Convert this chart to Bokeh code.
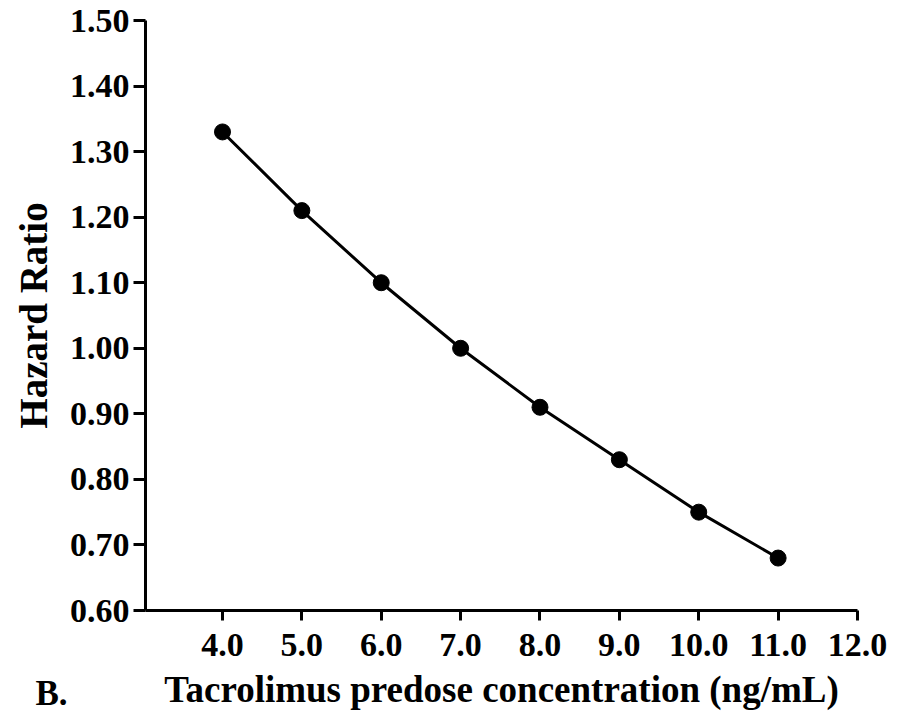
from bokeh.plotting import figure
from bokeh.models import Range1d, FixedTicker, PrintfTickFormatter, Title
from bokeh.embed import file_html
from bokeh.resources import INLINE

conc = [4.0, 5.0, 6.0, 7.0, 8.0, 9.0, 10.0, 11.0]
hazard = [1.33, 1.21, 1.10, 1.00, 0.91, 0.83, 0.75, 0.68]
x_ticks = [4.0, 5.0, 6.0, 7.0, 8.0, 9.0, 10.0, 11.0, 12.0]
y_ticks = [0.60, 0.70, 0.80, 0.90, 1.00, 1.10, 1.20, 1.30, 1.40, 1.50]

FONT = "Liberation Serif"

p = figure(width=888, height=712, x_range=Range1d(3.03, 12.0), y_range=Range1d(0.60, 1.50),
           output_backend="svg", toolbar_location=None,
           min_border_left=145, min_border_right=31, min_border_top=20, min_border_bottom=102)
p.outline_line_color = None
p.grid.visible = False
p.background_fill_color = "white"

for ax in (p.xaxis[0], p.yaxis[0]):
    ax.axis_line_width = 3
    ax.axis_line_color = "black"
    ax.major_tick_line_width = 3
    ax.major_tick_line_color = "black"
    ax.major_tick_in = 0
    ax.minor_tick_line_color = None
    ax.major_label_text_font = FONT
    ax.major_label_text_font_style = "bold"
    ax.major_label_text_font_size = "34px"
    ax.major_label_text_color = "black"
    ax.axis_label_text_font = FONT
    ax.axis_label_text_font_style = "bold"
    ax.axis_label_text_color = "black"

p.xaxis.ticker = FixedTicker(ticks=x_ticks)
p.yaxis.ticker = FixedTicker(ticks=y_ticks)
p.xaxis.formatter = PrintfTickFormatter(format="%.1f")
p.yaxis.formatter = PrintfTickFormatter(format="%.2f")
p.xaxis.major_tick_out = 10
p.yaxis.major_tick_out = 12
p.xaxis.major_label_standoff = 13
p.yaxis.major_label_standoff = 4
p.xaxis.axis_label = "Tacrolimus predose concentration (ng/mL)"
p.yaxis.axis_label = "Hazard Ratio"
p.xaxis.axis_label_text_font_size = "37px"
p.yaxis.axis_label_text_font_size = "39px"
p.xaxis.axis_label_standoff = 10
p.yaxis.axis_label_standoff = 12

p.line(conc, hazard, line_width=3, line_color="black")
p.scatter(conc, hazard, size=16, fill_color="black", line_color="black")

p.add_layout(Title(text="B.", align="left", offset=-110, standoff=-78, vertical_align="top",
                   text_font=FONT, text_font_style="bold", text_font_size="35px",
                   text_color="black"), "below")

open("out.html", "w").write(file_html(p, INLINE))
